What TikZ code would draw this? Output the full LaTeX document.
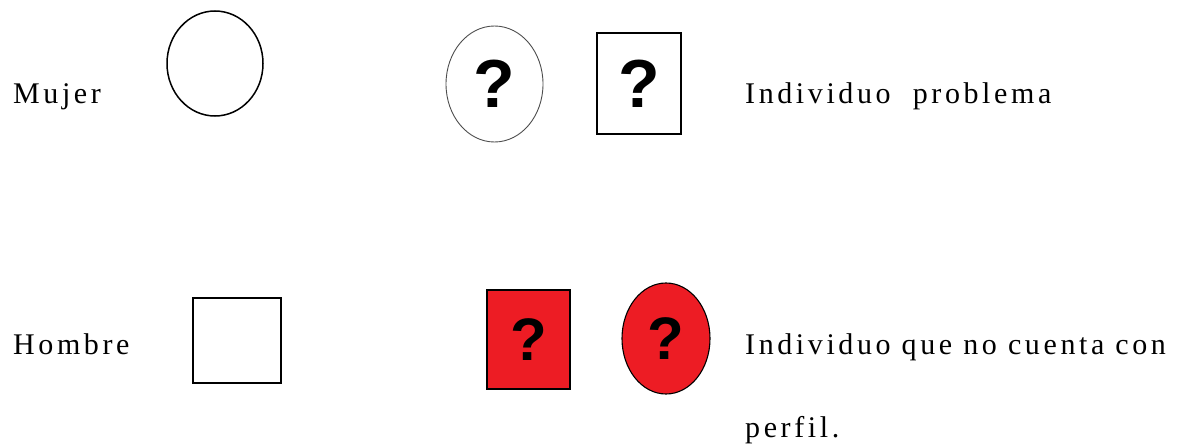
\documentclass[tikz,border=0pt]{standalone}
\usepackage{fontspec}
\setmainfont[LetterSpace=12]{Liberation Serif}
\newfontfamily\qfont{Liberation Sans}
\usetikzlibrary{shapes.geometric,positioning}
\definecolor{rojo}{HTML}{ED1C24}

\begin{document}
\begin{tikzpicture}[x=1pt,y=-1pt,
		lbl/.style={anchor=base west,inner sep=0pt,font=\fontsize{30}{36}\selectfont},
		fem/.style={draw,ellipse,line width=1.5pt,inner sep=0pt},
		masc/.style={draw,rectangle,line width=1.5pt,inner sep=0pt},
		qmark/.style={font=\qfont\bfseries\fontsize{#1}{#1}\selectfont}]
		\useasboundingbox (0,0) rectangle (1178,444);

		% simbolos basicos
		\node[lbl] (tmujer) at (13,103) {Mujer};
		\node[fem,minimum width=96,minimum height=105] (mujer) at (215,63.5) {};
		\node[lbl] (thombre) at (13,354) {Hombre};
		\node[masc,minimum width=88,minimum height=85] (hombre) at (237,340.5) {};

		% individuo problema
		\node[fem,draw=black!70,line width=0.9pt,minimum width=97,minimum height=116,qmark=68] (probcirc) at (494.5,84) {?};
		\node[masc,line width=1.1pt,minimum width=84,minimum height=101,qmark=68] (probsq) at (639,83.5) {?};
		\node[lbl] (tprob) at (745,103) {Individuo~~problema};

		% sin perfil
		\node[masc,fill=rojo,minimum width=83,minimum height=99,qmark=60] (sinsq) at (528.5,339.5) {?};
		\node[fem,fill=rojo,line width=1.1pt,minimum width=88,minimum height=111,qmark=60] (sincirc) at (666,338.5) {?};
		\node[lbl] (tsin) at (745,354) {Individuo que no cuenta con};
		\node[lbl] (tsin2) at (745,437) {perfil.};
	\end{tikzpicture}
\end{document}
